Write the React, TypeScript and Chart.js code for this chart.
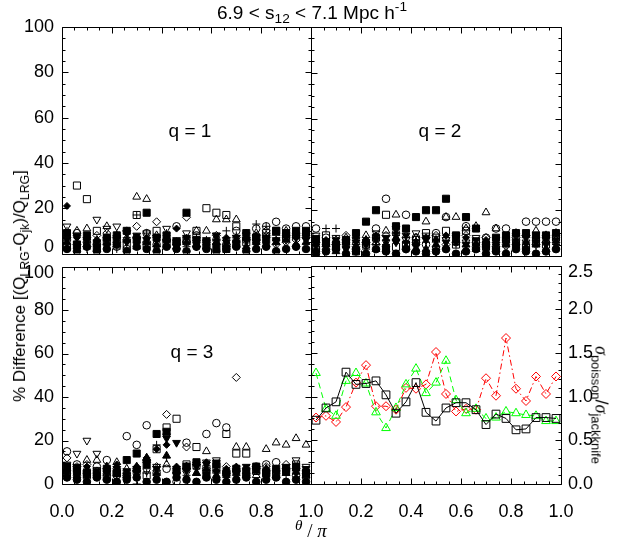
import React, { useEffect, useRef } from 'react';
import { Chart, registerables } from 'chart.js';

Chart.register(...registerables);

const FONT = "'Liberation Sans', Arial, Helvetica, sans-serif";
const SERIF = "'Liberation Serif', 'DejaVu Serif', serif";

// bin centres in theta/pi
const thetaBins = [0.02, 0.06, 0.10, 0.14, 0.18, 0.22, 0.26, 0.30, 0.34, 0.38, 0.42, 0.46, 0.50, 0.54, 0.58, 0.62, 0.66, 0.70, 0.74, 0.78, 0.82, 0.86, 0.90, 0.94, 0.98];

// tick positions
const thetaMajorTicks = [0, 0.2, 0.4, 0.6, 0.8, 1.0];
const thetaMinorTicks = [0.05, 0.1, 0.15, 0.25, 0.3, 0.35, 0.45, 0.5, 0.55, 0.65, 0.7, 0.75, 0.85, 0.9, 0.95];
const pctMajorTicks = [0, 20, 40, 60, 80, 100];
const pctMinorTicks = [5, 10, 15, 25, 30, 35, 45, 50, 55, 65, 70, 75, 85, 90, 95];
const ratioMajorTicks = [0, 0.5, 1.0, 1.5, 2.0, 2.5];
const ratioMinorTicks = [0.1, 0.2, 0.3, 0.4, 0.6, 0.7, 0.8, 0.9, 1.1, 1.2, 1.3, 1.4, 1.6, 1.7, 1.8, 1.9, 2.1, 2.2, 2.3, 2.4];

// q = 1  (% difference)
const q1FilledCircle = [2, 1, 3, 1, 2, 4, 1, 3, 2, 1, 3, 2, 1, 3, 2, 1, 2, 3, 1, 2, 3, 1, 2, 3, 2];
const q1OpenCircle = [6, 9, 5, 4, 7, 3, 2, 7, 9, 4, 6, 12, 5, 8, 3, 6, 4, 10, 6, 11, 12, 14, 11, 12, 12];
const q1FilledSquare = [9, 4, 8, 3, 7, 8, 10, 6, 18, 7, 8, 5, 18, 6, 5, 3, 2, 4, 9, 7, 6, 10, 9, 10, 10];
const q1OpenSquare = [3, 30, 24, 10, 5, 6, 4, 17, 4, 10, 4, 5, 6, 10, 20, 18, 17, 12, 5, 7, 9, 10, 7, 8, 9];
const q1OpenTriUp = [8, 10, 11, 6, 12, 8, 7, 25, 24, 8, 7, 5, 6, 10, 10, 15, 15, 15, 7, 9, 8, 9, 10, 8, 9];
const q1OpenTriDown = [12, 7, 6, 15, 11, 12, 9, 6, 9, 7, 11, 5, 9, 6, 5, 8, 6, 5, 6, 4, 8, 5, 6, 7, 8];
const q1OpenDiamond = [2, 4, 3, 8, 9, 5, 10, 12, 5, 14, 6, 4, 16, 3, 5, 8, 4, 7, 9, 6, 10, 4, 5, 6, 7];
const q1FilledDiamond = [21, 7, 5, 6, 4, 6, 9, 5, 7, 6, 8, 11, 7, 5, 4, 6, 7, 5, 6, 8, 7, 6, 8, 7, 8];
const q1Plus = [10, 5, 2, 3, 6, 2, 7, 17, 9, 3, 9, 5, 3, 7, 6, 4, 10, 8, 7, 13, 12, 6, 9, 8, 7];
const q1FilledTriDown = [6, 8, 6, 5, 6, 7, 5, 8, 6, 7, 5, 6, 7, 5, 6, 8, 5, 7, 6, 5, 7, 6, 7, 8, 6];
const q1FilledTriUp = [5, 3, 7, 2, 5, 4, 6, 3, 5, 4, 6, 3, 5, 4, 3, 5, 4, 6, 3, 5, 4, 5, 6, 4, 5];

// q = 2
const q2FilledCircle = [1, 2, 3, 1, 2, 1, 3, 2, 1, 3, 2, 1, 2, 3, 1, 2, 3, 1, 2, 1, 3, 2, 1, 2, 3];
const q2OpenCircle = [12, 8, 5, 7, 3, 6, 12, 25, 10, 18, 8, 5, 10, 17, 6, 13, 4, 8, 12, 12, 7, 15, 15, 15, 15];
const q2FilledSquare = [7, 6, 5, 7, 10, 15, 20, 3, 13, 12, 17, 20, 20, 25, 9, 17, 12, 5, 8, 9, 10, 10, 9, 9, 10];
const q2OpenSquare = [3, 9, 4, 6, 2, 5, 8, 18, 4, 5, 7, 10, 8, 11, 5, 11, 6, 4, 3, 7, 5, 4, 6, 5, 8];
const q2OpenTriUp = [4, 5, 7, 8, 6, 9, 6, 11, 18, 9, 8, 15, 7, 17, 17, 12, 13, 19, 12, 7, 10, 9, 11, 9, 10];
const q2OpenTriDown = [9, 6, 8, 5, 7, 4, 10, 6, 12, 7, 10, 9, 3, 7, 9, 6, 8, 5, 7, 4, 9, 6, 7, 8, 5];
const q2OpenDiamond = [6, 3, 5, 9, 4, 7, 5, 9, 7, 3, 6, 8, 9, 5, 7, 9, 6, 8, 4, 7, 8, 9, 5, 6, 7];
const q2FilledDiamond = [5, 7, 6, 4, 8, 6, 9, 7, 10, 6, 5, 8, 7, 9, 6, 8, 5, 7, 6, 8, 7, 6, 8, 7, 6];
const q2Plus = [5, 12, 12, 4, 6, 3, 8, 5, 9, 4, 7, 6, 3, 8, 5, 4, 6, 3, 5, 4, 6, 5, 4, 6, 5];
const q2FilledTriDown = [8, 4, 7, 3, 6, 5, 7, 8, 6, 9, 4, 7, 2, 6, 8, 5, 7, 3, 5, 6, 4, 8, 6, 5, 7];
const q2FilledTriUp = [3, 5, 2, 6, 4, 7, 3, 5, 8, 4, 6, 3, 5, 4, 7, 5, 3, 6, 4, 5, 6, 4, 5, 3, 4];

// q = 3
const q3FilledCircle = [3, 2, 1, 3, 2, 1, 2, 3, 1, 2, 1, 3, 2, 1, 3, 2, 1, 2, 3, 1, 2, 3, 1, 2, 1];
const q3OpenCircle = [15, 9, 6, 8, 11, 4, 22, 18, 27, 5, 7, 1, 19, 8, 23, 28, 26, 6, 4, 8, 9, 10, 7, 4, 6];
const q3FilledSquare = [8, 6, 5, 4, 7, 5, 11, 14, 9, 23, 24, 6, 8, 10, 4, 9, 5, 7, 6, 8, 5, 7, 6, 8, 5];
const q3OpenSquare = [5, 7, 4, 6, 3, 5, 4, 6, 4, 16, 26, 30, 9, 17, 7, 8, 23, 14, 14, 6, 5, 4, 7, 9, 4];
const q3OpenTriUp = [6, 5, 11, 11, 5, 10, 7, 8, 12, 7, 9, 6, 8, 5, 15, 6, 5, 17, 17, 4, 16, 19, 18, 21, 18];
const q3OpenTriDown = [9, 14, 20, 14, 6, 5, 4, 7, 6, 8, 22, 7, 5, 9, 10, 11, 4, 5, 6, 7, 5, 4, 6, 11, 8];
const q3OpenDiamond = [12, 8, 9, 6, 5, 7, 4, 6, 10, 8, 32, 7, 17, 9, 7, 6, 8, 49, 5, 7, 8, 6, 9, 7, 5];
const q3FilledDiamond = [6, 7, 8, 5, 6, 9, 5, 8, 12, 16, 18, 8, 7, 9, 10, 6, 7, 8, 6, 7, 5, 6, 7, 5, 6];
const q3Plus = [4, 6, 3, 5, 7, 4, 3, 0, 5, 18, 12, 6, 4, 7, 5, 6, 3, 5, 4, 6, 5, 7, 4, 5, 6];
const q3FilledTriDown = [5, 8, 4, 6, 5, 7, 6, 5, 10, 7, 21, 19, 6, 8, 9, 10, 5, 6, 8, 7, 6, 5, 8, 6, 7];
const q3FilledTriUp = [7, 4, 6, 5, 8, 6, 4, 7, 12, 5, 13, 6, 8, 5, 7, 4, 6, 5, 4, 6, 7, 4, 5, 7, 4];

// sigma_poisson / sigma_jackknife
const ratioQ1 = [0.73, 0.87, 0.94, 1.28, 1.14, 1.15, 1.18, 1.02, 0.81, 0.94, 1.16, 0.82, 0.72, 0.87, 0.93, 0.93, 0.85, 0.68, 0.80, 0.75, 0.62, 0.63, 0.76, 0.76, 0.75];
const ratioQ2 = [1.27, 0.86, 0.78, 1.18, 1.27, 1.15, 0.82, 0.64, 0.87, 1.14, 1.32, 1.04, 1.16, 1.41, 0.96, 0.81, 0.86, 0.75, 0.76, 0.83, 0.81, 0.79, 0.78, 0.72, 0.72];
const ratioQ3 = [0.76, 0.78, 0.71, 0.88, 1.16, 1.36, 0.89, 0.89, 0.85, 1.10, 1.09, 1.14, 1.51, 1.03, 0.83, 0.86, 0.85, 1.21, 1.01, 1.67, 1.09, 0.95, 1.23, 1.03, 1.23];

const q1Series = [q1FilledCircle, q1OpenCircle, q1FilledSquare, q1OpenSquare, q1OpenTriUp, q1OpenTriDown, q1OpenDiamond, q1FilledDiamond, q1Plus, q1FilledTriDown, q1FilledTriUp];
const q2Series = [q2FilledCircle, q2OpenCircle, q2FilledSquare, q2OpenSquare, q2OpenTriUp, q2OpenTriDown, q2OpenDiamond, q2FilledDiamond, q2Plus, q2FilledTriDown, q2FilledTriUp];
const q3Series = [q3FilledCircle, q3OpenCircle, q3FilledSquare, q3OpenSquare, q3OpenTriUp, q3OpenTriDown, q3OpenDiamond, q3FilledDiamond, q3Plus, q3FilledTriDown, q3FilledTriUp];

const SYMBOLS = [
  { style: 'circle', fill: true, r: 3.8, rot: 0 },
  { style: 'circle', fill: false, r: 3.8, rot: 0 },
  { style: 'rect', fill: true, r: 5, rot: 0 },
  { style: 'rect', fill: false, r: 5, rot: 0 },
  { style: 'triangle', fill: false, r: 4.5, rot: 0 },
  { style: 'triangle', fill: false, r: 4.5, rot: 180 },
  { style: 'rectRot', fill: false, r: 4, rot: 0 },
  { style: 'rectRot', fill: true, r: 3.5, rot: 0 },
  { style: 'cross', fill: false, r: 4, rot: 0 },
  { style: 'triangle', fill: true, r: 4.5, rot: 180 },
  { style: 'triangle', fill: true, r: 4.5, rot: 0 },
];

const boxTicksPlugin = {
  id: 'boxTicks',
  afterDatasetsDraw(chart: any, _args: any, opts: any) {
    const { ctx, chartArea: a, scales } = chart;
    const snap = (v: number) => Math.round(v) + 0.5;
    const L = snap(a.left), R = snap(a.right), T = snap(a.top), B = snap(a.bottom);
    ctx.save();
    ctx.strokeStyle = '#000';
    ctx.lineWidth = 1;
    ctx.beginPath();
    ctx.rect(L, T, R - L, B - T);
    ctx.stroke();
    ctx.beginPath();
    ['top', 'bottom', 'left', 'right'].forEach((side) => {
      const spec = opts[side];
      if (!spec) return;
      const sc = scales[spec.scale];
      const draw = (v: number, len: number) => {
        const p = snap(sc.getPixelForValue(v));
        if (side === 'bottom') { ctx.moveTo(p, B); ctx.lineTo(p, B - len); }
        if (side === 'top') { ctx.moveTo(p, T); ctx.lineTo(p, T + len); }
        if (side === 'left') { ctx.moveTo(L, p); ctx.lineTo(L + len, p); }
        if (side === 'right') { ctx.moveTo(R, p); ctx.lineTo(R - len, p); }
      };
      spec.major.forEach((v: number) => draw(v, opts.majorLen));
      spec.minor.forEach((v: number) => draw(v, opts.minorLen));
    });
    ctx.stroke();
    ctx.restore();
  },
};

const yTickFont = { family: FONT, size: 18, lineHeight: 0.75 };
const xTickFont = { family: FONT, size: 18, lineHeight: 2.93 };

function symbolDatasets(series: number[][]) {
  return SYMBOLS.map((s, i) => ({
    data: thetaBins.map((x, k) => ({ x, y: series[i][k] })),
    pointStyle: s.style,
    pointRadius: s.r,
    pointRotation: s.rot,
    pointBackgroundColor: s.fill ? '#000' : 'rgba(0,0,0,0)',
    pointBorderColor: '#000',
    pointBorderWidth: 1,
    showLine: false,
    clip: 0,
  }));
}

function thetaScale(showLabels: boolean, skipZero: boolean) {
  return {
    type: 'linear',
    min: 0,
    max: 1,
    display: showLabels,
    position: 'bottom',
    grid: { display: false, drawTicks: false },
    border: { display: false },
    ticks: {
      stepSize: 0.2,
      autoSkip: false,
      maxRotation: 0,
      color: '#000',
      font: xTickFont,
      padding: 2,
      callback: (v: number) => (skipZero && v === 0 ? '' : v.toFixed(1)),
    },
    afterFit: (s: any) => { if (showLabels) s.height = 61; },
  };
}

function pctScale(show: boolean, shiftZeroUp: boolean, shiftTopDown: boolean) {
  return {
    type: 'linear',
    min: 0,
    max: 100,
    display: show,
    position: 'left',
    grid: { display: false, drawTicks: false },
    border: { display: false },
    ticks: {
      stepSize: 20,
      autoSkip: false,
      color: '#000',
      font: yTickFont,
      padding: 8,
      callback: (v: number) => {
        if (shiftZeroUp && v === 0) return ['0', ''];
        if (shiftTopDown && v === 100) return ['', '100'];
        return String(v);
      },
    },
    afterFit: (s: any) => { if (show) s.width = 62; },
  };
}

const pctTickSpec = { scale: 'y', major: pctMajorTicks, minor: pctMinorTicks };
const thetaTickSpec = { scale: 'x', major: thetaMajorTicks, minor: thetaMinorTicks };
const TICK_LEN = { majorLen: 6, minorLen: 3 };

function baseOptions(padding: any, boxTicks: any, scales: any) {
  return {
    animation: false, responsive: false, events: [],
    layout: { padding },
    plugins: { legend: { display: false }, tooltip: { enabled: false }, boxTicks: { ...TICK_LEN, ...boxTicks } },
    scales,
  };
}

function makeTopLeft() {
  return {
    type: 'scatter',
    data: { datasets: symbolDatasets(q1Series) },
    plugins: [boxTicksPlugin],
    options: baseOptions({ left: 0, top: 27, right: 19, bottom: 19 },
      { top: thetaTickSpec, bottom: thetaTickSpec, left: pctTickSpec, right: pctTickSpec },
      { x: thetaScale(false, false), y: pctScale(true, true, false) }),
  };
}

function makeTopRight() {
  return {
    type: 'scatter',
    data: { datasets: symbolDatasets(q2Series) },
    plugins: [boxTicksPlugin],
    options: baseOptions({ left: 11, top: 27, right: 62, bottom: 19 },
      { top: thetaTickSpec, bottom: thetaTickSpec, left: pctTickSpec, right: pctTickSpec },
      { x: thetaScale(false, false), y: pctScale(false, false, false) }),
  };
}

function makeBottomLeft() {
  return {
    type: 'scatter',
    data: { datasets: symbolDatasets(q3Series) },
    plugins: [boxTicksPlugin],
    options: baseOptions({ left: 0, top: 11, right: 19, bottom: 0 },
      { top: thetaTickSpec, bottom: thetaTickSpec, left: pctTickSpec, right: pctTickSpec },
      { x: thetaScale(true, false), y: pctScale(true, false, true) }),
  };
}

function ratioLine(values: number[], color: string, dash: number[], style: string, r: number, rot: number) {
  return {
    data: thetaBins.map((x, k) => ({ x, y: values[k] })),
    yAxisID: 'yR',
    showLine: true,
    borderColor: color,
    borderWidth: 1,
    borderDash: dash,
    pointStyle: style,
    pointRadius: r,
    pointRotation: rot,
    pointBorderColor: color,
    pointBackgroundColor: 'rgba(0,0,0,0)',
    pointBorderWidth: 1,
    tension: 0,
  };
}

function makeBottomRight() {
  return {
    type: 'scatter',
    data: {
      datasets: [
        ratioLine(ratioQ1, '#000000', [], 'rect', 5.5, 0),
        ratioLine(ratioQ2, '#00ff00', [6, 4], 'triangle', 5, 0),
        ratioLine(ratioQ3, '#ff0000', [6, 3, 1.5, 3], 'rectRot', 4.5, 0),
      ],
    },
    plugins: [boxTicksPlugin],
    options: baseOptions({ left: 11, top: 11, right: 0, bottom: 0 },
      { top: thetaTickSpec, bottom: thetaTickSpec, left: pctTickSpec,
        right: { scale: 'yR', major: ratioMajorTicks, minor: ratioMinorTicks } },
      {
        x: thetaScale(true, true),
        y: pctScale(false, false, false),
        yR: {
          type: 'linear', min: 0, max: 2.5, position: 'right', display: true,
          grid: { display: false, drawTicks: false },
          border: { display: false },
          ticks: {
            stepSize: 0.5, autoSkip: false, color: '#000', font: yTickFont, padding: 7,
            callback: (v: number) => (v === 2.5 ? ['', '2.5'] : v.toFixed(1)),
          },
          afterFit: (s: any) => { s.width = 62; },
        },
      }),
  };
}

function ChartCanvas({ left, top, width, height, make }: any) {
  const ref = useRef<HTMLCanvasElement>(null);
  useEffect(() => {
    const chart = new Chart(ref.current as HTMLCanvasElement, make());
    return () => chart.destroy();
  }, []);
  return (
    <canvas ref={ref} width={width} height={height}
      style={{ position: 'absolute', left, top, width, height }} />
  );
}

const abs = (x: number, y: number, extra: any = {}) => ({
  position: 'absolute' as const, left: x, top: y, transform: 'translate(-50%, -50%)', whiteSpace: 'nowrap' as const, ...extra,
});

const sub = { fontSize: '0.72em', verticalAlign: '-0.3em', lineHeight: 0 };
const sup = { fontSize: '0.72em', verticalAlign: '0.55em', lineHeight: 0 };

export default function App() {
  return (
    <div style={{ position: 'absolute', left: 0, top: 0, width: 623, height: 545, background: '#fff', overflow: 'hidden', fontFamily: FONT, color: '#000' }}>
      <ChartCanvas left={0} top={0} width={330} height={275} make={makeTopLeft} />
      <ChartCanvas left={300} top={0} width={323} height={275} make={makeTopRight} />
      <ChartCanvas left={0} top={245} width={330} height={300} make={makeBottomLeft} />
      <ChartCanvas left={300} top={245} width={323} height={300} make={makeBottomRight} />

      <div style={abs(312, 13, { fontSize: 19, lineHeight: '22px' })}>
        6.9 &lt; s<span style={sub}>12</span> &lt; 7.1 Mpc h<span style={sup}>-1</span>
      </div>

      <div style={abs(190, 131, { fontSize: 19 })}>q = 1</div>
      <div style={abs(440, 131, { fontSize: 19 })}>q = 2</div>
      <div style={abs(192, 352, { fontSize: 19 })}>q = 3</div>

      <div style={abs(20, 286, { fontSize: 17, transform: 'translate(-50%, -50%) rotate(-90deg)' })}>
        % Difference [(Q<span style={sub}>LRG</span>-Q<span style={sub}>jk</span>)/Q<span style={sub}>LRG</span>]
      </div>

      <div style={abs(601, 405, { fontSize: 18, transform: 'translate(-50%, -50%) rotate(90deg)' })}>
        <span style={{ fontFamily: SERIF, fontStyle: 'italic' }}>σ</span>
        <span style={sub}>poisson</span>/<span style={{ fontFamily: SERIF, fontStyle: 'italic' }}>σ</span>
        <span style={sub}>jackknife</span>
      </div>

      <div style={abs(311, 529, { fontSize: 19, fontFamily: SERIF })}>
        <span style={{ fontStyle: 'italic', fontSize: '0.8em', verticalAlign: '0.4em' }}>θ</span> / <span style={{ fontStyle: 'italic' }}>π</span>
      </div>
    </div>
  );
}
